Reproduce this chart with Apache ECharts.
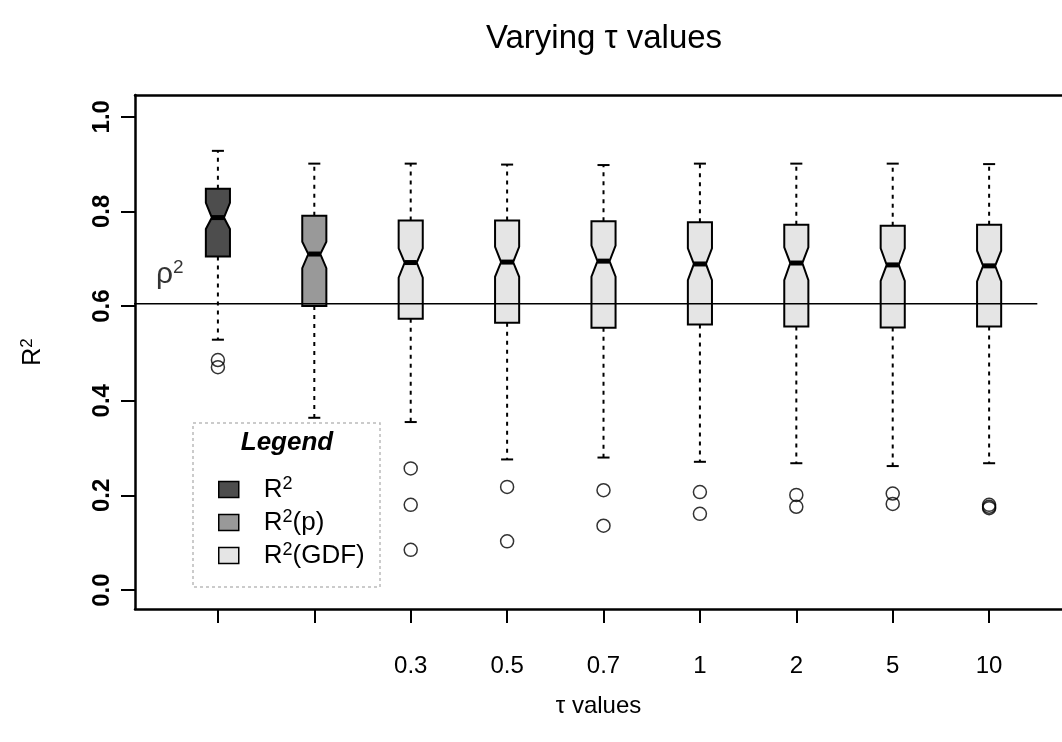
<!DOCTYPE html>
<html><head><meta charset="utf-8">
<script src="https://cdn.jsdelivr.net/npm/echarts@6/dist/echarts.min.js"></script>
<style>html,body{margin:0;padding:0;background:#fff}#c{width:1062px;height:742px}</style>
</head><body><div id="c"></div>
<script>
// ---------------- data ----------------
const groups = ['R²','R²(p)','0.3','0.5','0.7','1','2','5','10'];
const tickLabels = ['','','0.3','0.5','0.7','1','2','5','10'];
const yTicks = [0, 0.2, 0.4, 0.6, 0.8, 1.0];
const whiskerLow  = [0.529,0.364,0.355,0.276,0.280,0.271,0.268,0.262,0.268];
const q1          = [0.705,0.600,0.573,0.565,0.554,0.561,0.557,0.555,0.557];
const notchLow    = [0.763,0.680,0.660,0.662,0.662,0.655,0.655,0.653,0.652];
const median      = [0.787,0.710,0.692,0.693,0.695,0.689,0.691,0.687,0.685];
const notchHigh   = [0.818,0.736,0.722,0.725,0.728,0.722,0.724,0.722,0.717];
const q3          = [0.848,0.791,0.781,0.781,0.779,0.777,0.772,0.770,0.772];
const whiskerHigh = [0.928,0.901,0.901,0.899,0.898,0.901,0.901,0.901,0.900];
const outliers = [[0.486,0.471],[],[0.257,0.180,0.085],[0.218,0.103],[0.211,0.136],[0.207,0.161],[0.201,0.176],[0.204,0.182],[0.180,0.176,0.173]];
const seriesNames = ['R²','R²(p)','R²(GDF)'];
const seriesOfGroup = [0,1,2,2,2,2,2,2,2];
const rho2 = 0.605;

// ---------------- style ----------------
const FONT = '"Liberation Sans", Arial, Helvetica, sans-serif';
const colors = ['#4d4d4d', '#999999', '#e5e5e5'];
const BOX_HALF = 0.125, CAP_HALF = 0.0625;
const X_MIN = 0.14, X_MAX = 9.756;
const FRAME = {color: '#000', width: 2.5};

function supRich(main, sub) {
  return {
    r: {fontSize: main, fontFamily: FONT, color: '#000', lineHeight: main + 3},
    s: {fontSize: sub, fontFamily: FONT, color: '#000', verticalAlign: 'top', lineHeight: sub}
  };
}
function supText(name) {
  const i = name.indexOf('²');
  const base = name.slice(0, i), rest = name.slice(i + 1);
  return '{r|' + base + '}{s|2}' + (rest ? '{r|' + rest + '}' : '');
}

function renderBox(params, api) {
  const x = api.value(0);
  const wl = api.value(1), lq = api.value(2), nl = api.value(3), md = api.value(4),
        nh = api.value(5), uq = api.value(6), wh = api.value(7);
  const P = (dx, y) => api.coord([x + dx, y]);
  const fill = api.visual('color');
  const dash = {stroke: '#000', lineWidth: 2, lineDash: [4, 5]};
  const solid = {stroke: '#000', lineWidth: 2};
  const line = (a, b, style) => ({type: 'line', shape: {x1: a[0], y1: a[1], x2: b[0], y2: b[1]}, style});
  const h = BOX_HALF, n = BOX_HALF / 2;
  const poly = [P(-h, lq), P(-h, nl), P(-n, md), P(-h, nh), P(-h, uq),
                P(h, uq), P(h, nh), P(n, md), P(h, nl), P(h, lq)];
  return {type: 'group', children: [
    line(P(0, uq), P(0, wh), dash),
    line(P(0, lq), P(0, wl), dash),
    line(P(-CAP_HALF, wh), P(CAP_HALF, wh), solid),
    line(P(-CAP_HALF, wl), P(CAP_HALF, wl), solid),
    {type: 'polygon', shape: {points: poly}, style: {fill: fill, stroke: '#000', lineWidth: 2}},
    line(P(-n, md), P(n, md), {stroke: '#000', lineWidth: 5})
  ]};
}

const boxSeries = seriesNames.map((nm, s) => ({
  type: 'custom',
  name: nm,
  itemStyle: {color: colors[s]},
  encode: {x: 0, y: [1, 2, 3, 4, 5, 6, 7]},
  renderItem: renderBox,
  z: 2,
  data: groups.map((g, i) => i).filter(i => seriesOfGroup[i] === s).map(i =>
    [i + 1, whiskerLow[i], q1[i], notchLow[i], median[i], notchHigh[i], q3[i], whiskerHigh[i]])
}));

const outlierData = [];
outliers.forEach((arr, i) => arr.forEach(v => outlierData.push([i + 1, v])));

const option = {
  animation: false,
  backgroundColor: '#fff',
  title: {
    text: 'Varying τ values', left: 604, top: 22, textAlign: 'center', padding: 0,
    textStyle: {fontSize: 33, fontWeight: 'normal', color: '#000', fontFamily: FONT}
  },
  grid: {left: 135, right: 0, top: 95, bottom: 133, show: false},
  xAxis: [{
    type: 'value', min: X_MIN, max: X_MAX, position: 'bottom',
    axisLine: {show: true, onZero: false, lineStyle: FRAME}, splitLine: {show: false},
    axisTick: {show: true, customValues: groups.map((g, i) => i + 1), length: 14, lineStyle: {color: '#000', width: 2}},
    axisLabel: {customValues: groups.map((g, i) => i + 1), formatter: v => tickLabels[Math.round(v) - 1],
      fontSize: 24, color: '#000', fontFamily: FONT, margin: 45},
    name: 'τ values', nameLocation: 'middle', nameGap: 85,
    nameTextStyle: {fontSize: 24, color: '#000', fontFamily: FONT}
  }, {
    type: 'value', min: X_MIN, max: X_MAX, position: 'top',
    axisLine: {show: true, onZero: false, lineStyle: FRAME}, splitLine: {show: false},
    axisTick: {show: false}, axisLabel: {show: false}
  }],
  yAxis: {
    type: 'value', min: -0.04, max: 1.046,
    axisLine: {show: true, onZero: false, lineStyle: FRAME}, splitLine: {show: false},
    axisTick: {show: true, customValues: yTicks, length: 14, lineStyle: {color: '#000', width: 2}},
    axisLabel: {customValues: yTicks, formatter: v => v.toFixed(1), rotate: 90,
      fontSize: 24, fontWeight: 'bold', color: '#000', fontFamily: FONT, margin: 21},
    name: supText('R²'), nameLocation: 'middle', nameGap: 88,
    nameTextStyle: {rich: supRich(25, 17)}
  },
  legend: {
    orient: 'vertical', left: 218, top: 475, padding: 0, itemGap: 5.5,
    itemWidth: 20, itemHeight: 16, selectedMode: false,
    data: seriesNames.map((nm, s) => ({name: nm, icon: 'rect',
      itemStyle: {color: colors[s], borderColor: '#000', borderWidth: 1.5}})),
    formatter: nm => supText(nm),
    textStyle: {padding: [0, 0, 0, 20], rich: supRich(26, 18)}
  },
  graphic: [
    {type: 'rect', shape: {x: 193, y: 423, width: 187, height: 164},
      style: {fill: 'none', stroke: '#bbbbbb', lineWidth: 1.5, lineDash: [3, 3]}, z: 10},
    {type: 'text', x: 287, y: 443, z: 10,
      style: {text: 'Legend', font: 'italic bold 26px ' + FONT, fill: '#000',
        textAlign: 'center', textVerticalAlign: 'middle', align: 'center', verticalAlign: 'middle'}}
  ],
  series: [
    ...boxSeries,
    {
      type: 'line', name: 'rho2', data: [[0, rho2], [groups.length + 0.5, rho2]],
      symbol: 'none', lineStyle: {color: '#000', width: 1.5}, silent: true, z: 3
    },
    {
      type: 'scatter', name: 'rho2label', data: [[0.5, rho2]], symbolSize: 0, silent: true,
      label: {show: true, position: 'top', distance: 12, color: '#000', formatter: '{r|ρ}{s|2}', rich: supRich(30, 19)}
    },
    {
      type: 'scatter', name: 'outliers', data: outlierData, symbol: 'circle', symbolSize: 13,
      itemStyle: {color: 'rgba(0,0,0,0)', borderColor: '#000', borderWidth: 1.5}, z: 4
    }
  ]
};

const chart = echarts.init(document.getElementById('c'), null, {renderer: 'canvas'});
chart.setOption(option);
</script>
</body></html>
